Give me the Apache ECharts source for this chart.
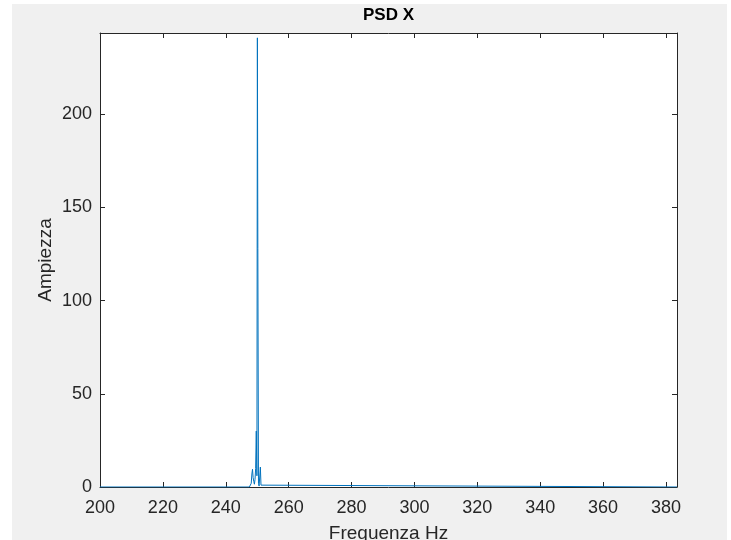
<!DOCTYPE html>
<html>
<head>
<meta charset="utf-8">
<script src="https://cdn.jsdelivr.net/npm/echarts@6/dist/echarts.min.js"></script>
<style>
html,body{margin:0;padding:0;background:#ffffff;width:731px;height:540px;overflow:hidden;}
#chart{position:absolute;left:12px;top:4px;width:715px;height:536px;background:#f0f0f0;}
</style>
</head>
<body>
<div id="chart"></div>
<script>
// Frequency (Hz) and PSD amplitude
const freqHz = [200, 247.5, 247.9, 248.1, 248.3, 248.5, 248.7, 248.9, 249.1, 249.3, 249.5, 249.7, 249.9, 250.05, 250.2, 250.4, 250.6, 250.8, 251.0, 251.2, 251.5, 383.5];
const amplitude = [0, 0, 0.5, 2, 7, 9.5, 5, 3, 1.5, 4, 10, 30, 6, 241, 128, 2, 0.5, 1, 10.7, 1, 0, 0];
const xTicks = [200, 220, 240, 260, 280, 300, 320, 340, 360, 380];
const yTicks = [0, 50, 100, 150, 200];
const titleText = 'PSD X';
const xLabel = 'Frequenza Hz';
const yLabel = 'Ampiezza';
const xMin = 200, xMax = 383.5, yMin = 0, yMax = 243.6;

const axisColor = '#262626';
const font = 'Liberation Sans, Arial, Helvetica, sans-serif';

const chart = echarts.init(document.getElementById('chart'), null, {renderer: 'canvas'});
const points = freqHz.map((f, i) => [f, amplitude[i]]);

const baseAxis = {
  axisLine: {show: true, onZero: false, lineStyle: {color: axisColor, width: 1}},
  axisTick: {show: true, inside: true, length: 5, lineStyle: {color: axisColor, width: 1}},
  splitLine: {show: false},
};

chart.setOption({
  backgroundColor: 'transparent',
  animation: false,
  title: {
    text: titleText,
    left: 376.5,
    top: 3,
    padding: 0,
    textAlign: 'center',
    textStyle: {fontFamily: font, fontWeight: 'bold', fontSize: 17, color: '#000000'}
  },
  grid: {left: 88, right: 50, top: 29, bottom: 53, show: true, backgroundColor: '#ffffff', borderWidth: 0, containLabel: false, outerBoundsMode: 'none'},
  xAxis: [
    Object.assign({}, baseAxis, {
      type: 'value', position: 'bottom', min: xMin, max: xMax, interval: 20,
      name: xLabel, nameLocation: 'middle', nameGap: 37, nameMoveOverlap: false,
      nameTextStyle: {fontFamily: font, fontSize: 19, color: axisColor},
      axisLabel: {
        show: true, margin: 12, fontFamily: font, fontSize: 18, color: axisColor,
        showMaxLabel: false,
        formatter: v => xTicks.indexOf(v) >= 0 ? String(v) : ''
      }
    }),
    Object.assign({}, baseAxis, {
      type: 'value', position: 'top', min: xMin, max: xMax, interval: 20,
      axisLabel: {show: false}
    })
  ],
  yAxis: [
    Object.assign({}, baseAxis, {
      type: 'value', position: 'left', min: yMin, max: yMax, interval: 50,
      name: yLabel, nameLocation: 'middle', nameGap: 45, nameRotate: 90, nameMoveOverlap: false,
      nameTextStyle: {fontFamily: font, fontSize: 19, color: axisColor},
      axisLabel: {
        show: true, margin: 8, fontFamily: font, fontSize: 18, color: axisColor,
        showMaxLabel: false,
        formatter: v => yTicks.indexOf(v) >= 0 ? String(v) : ''
      }
    }),
    Object.assign({}, baseAxis, {
      type: 'value', position: 'right', min: yMin, max: yMax, interval: 50,
      axisLabel: {show: false}
    })
  ],
  series: [{
    type: 'line',
    data: points,
    xAxisIndex: 0,
    yAxisIndex: 0,
    showSymbol: false,
    symbol: 'none',
    clip: true,
    lineStyle: {color: '#0072BD', width: 1},
    z: 5
  }]
});
</script>
</body>
</html>
